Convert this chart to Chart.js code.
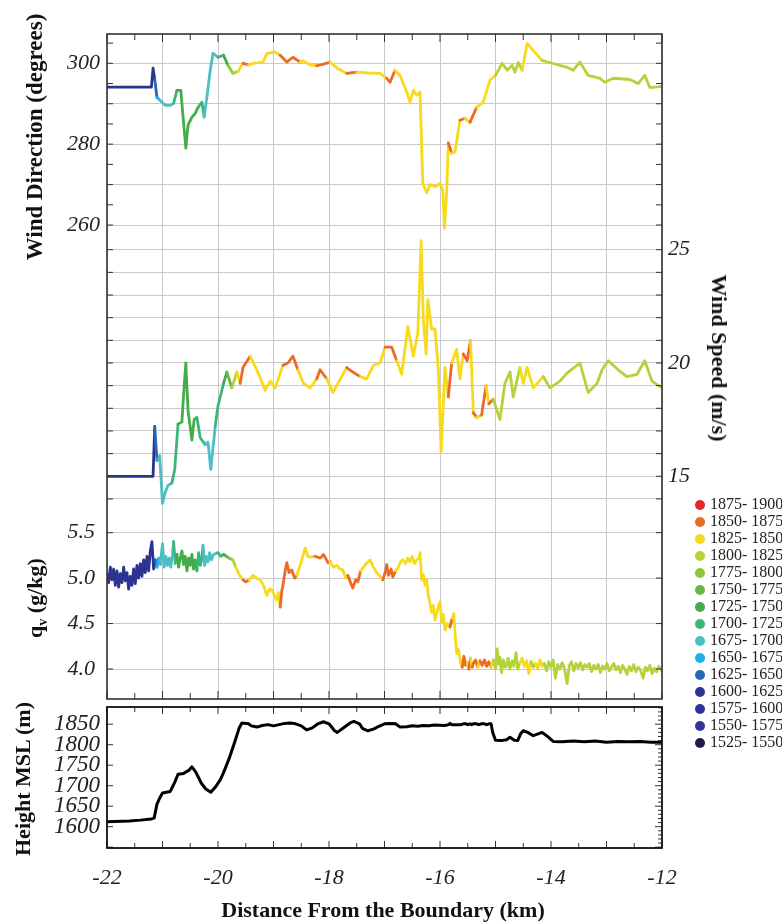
<!DOCTYPE html>
<html>
<head>
<meta charset="utf-8">
<script src="https://cdn.jsdelivr.net/npm/chart.js@4.4.0/dist/chart.umd.min.js"></script>
<style>
  body { margin: 0; background: #fff; }
  #wrap { position: relative; width: 782px; height: 922px; overflow: hidden; font-family: "Liberation Serif", "Times New Roman", serif; color: #111; }
  #box1 { position: absolute; left: 0; top: 0; }
  #box2 { position: absolute; left: 0; top: 700px; }
  .ttl { position: absolute; font-weight: bold; font-size: 22px; white-space: nowrap; line-height: 1; }
  .ttl sub { font-size: 14px; }
  .leg { position: absolute; left: 695px; height: 18px; line-height: 18px; font-size: 16px; white-space: nowrap; color: #222; }
  .leg span { display: inline-block; width: 10px; height: 10px; border-radius: 50%; margin-right: 5px; vertical-align: -1px; }
</style>
</head>
<body>
<div id="wrap">
  <div id="box1"><canvas id="c1" width="782" height="700"></canvas></div>
  <div id="box2"><canvas id="c2" width="782" height="222"></canvas></div>

  <div class="ttl" style="left:34px;top:137px;font-size:23px;transform:translate(-50%,-50%) rotate(-90deg)">Wind Direction (degrees)</div>
  <div class="ttl" style="left:37px;top:598px;transform:translate(-50%,-50%) rotate(-90deg)">q<sub>v</sub> (g/kg)</div>
  <div class="ttl" style="left:719px;top:358px;transform:translate(-50%,-50%) rotate(90deg)">Wind Speed (m/s)</div>
  <div class="ttl" style="left:23px;top:779px;transform:translate(-50%,-50%) rotate(-90deg)">Height MSL (m)</div>
  <div class="ttl" style="left:383px;top:910px;transform:translate(-50%,-50%)">Distance From the Boundary (km)</div>
  <div id="legend"></div>
</div>

<script>
// wind direction (deg) along the track
const dirKm = [-22.00, -21.60, -21.20, -21.17, -21.14, -21.10, -21.05, -20.95, -20.86, -20.80,
  -20.74, -20.67, -20.64, -20.58, -20.54, -20.47, -20.41, -20.36, -20.29, -20.25,
  -20.20, -20.14, -20.09, -20.00, -19.90, -19.82, -19.73, -19.64, -19.55, -19.45,
  -19.37, -19.19, -19.12, -18.97, -18.88, -18.76, -18.65, -18.52, -18.46, -18.34,
  -18.22, -18.10, -17.98, -17.85, -17.68, -17.50, -17.30, -17.08, -16.96, -16.90,
  -16.81, -16.72, -16.60, -16.54, -16.48, -16.42, -16.36, -16.31, -16.24, -16.18,
  -16.09, -16.00, -15.95, -15.92, -15.88, -15.85, -15.79, -15.73, -15.64, -15.55,
  -15.46, -15.34, -15.22, -15.10, -15.00, -14.88, -14.79, -14.70, -14.65, -14.59,
  -14.52, -14.43, -14.29, -14.16, -14.02, -13.71, -13.60, -13.48, -13.33, -13.12,
  -13.03, -12.88, -12.58, -12.43, -12.31, -12.22, -12.00];
const dirDeg = [294.1, 294.1, 294.1, 298.8, 296.0, 291.6, 290.9, 289.6, 289.6, 290.1,
  293.3, 293.3, 288.4, 279.0, 284.7, 286.7, 287.6, 289.1, 290.4, 286.7,
  291.6, 298.3, 302.5, 301.5, 302.0, 299.5, 297.5, 298.0, 300.0, 299.6,
  300.0, 300.3, 302.4, 302.8, 302.0, 300.3, 301.5, 300.3, 300.6, 299.6,
  299.4, 299.8, 300.3, 298.8, 297.5, 297.8, 297.6, 297.5, 296.3, 295.3,
  298.3, 297.0, 292.9, 290.4, 293.3, 292.1, 292.9, 270.3, 268.0, 270.0,
  269.5, 270.3, 268.6, 259.2, 268.0, 280.3, 277.8, 278.0, 285.9, 286.4,
  285.4, 289.1, 290.4, 295.8, 297.0, 300.0, 298.3, 299.5, 297.8, 300.2,
  298.3, 304.9, 302.7, 300.7, 300.2, 299.0, 298.3, 300.3, 297.0, 296.3,
  295.3, 296.3, 296.0, 295.0, 297.0, 294.0, 294.3];

// wind speed (m/s)
const spdKm = [-22.00, -21.60, -21.17, -21.14, -21.10, -21.05, -21.00, -20.95, -20.90, -20.83,
  -20.78, -20.72, -20.65, -20.62, -20.58, -20.54, -20.47, -20.43, -20.38, -20.32,
  -20.23, -20.18, -20.13, -20.05, -20.00, -19.90, -19.84, -19.75, -19.66, -19.60,
  -19.55, -19.42, -19.30, -19.15, -19.06, -18.97, -18.83, -18.74, -18.65, -18.56,
  -18.46, -18.34, -18.22, -18.16, -18.04, -17.93, -17.84, -17.68, -17.57, -17.44,
  -17.32, -17.20, -17.08, -16.99, -16.87, -16.78, -16.69, -16.58, -16.48, -16.45,
  -16.40, -16.34, -16.30, -16.25, -16.22, -16.15, -16.09, -16.03, -15.98, -15.91,
  -15.85, -15.79, -15.70, -15.64, -15.58, -15.51, -15.45, -15.40, -15.34, -15.25,
  -15.17, -15.12, -15.04, -14.92, -14.83, -14.74, -14.68, -14.56, -14.50, -14.43,
  -14.32, -14.14, -14.02, -13.84, -13.69, -13.48, -13.33, -13.17, -13.08, -12.97,
  -12.79, -12.63, -12.45, -12.31, -12.18, -12.00];
const spdMs = [15.0, 15.0, 15.0, 17.2, 15.7, 15.9, 13.8, 14.3, 14.6, 14.7,
  15.3, 17.3, 17.4, 18.6, 20.0, 17.9, 16.6, 17.5, 17.6, 16.7,
  16.4, 16.5, 15.3, 17.2, 18.1, 19.1, 19.6, 18.9, 19.6, 19.1,
  19.8, 20.3, 19.7, 18.8, 19.2, 18.9, 19.9, 20.0, 20.3, 19.7,
  19.1, 18.9, 19.3, 19.7, 19.3, 18.7, 19.1, 19.8, 19.6, 19.4,
  19.3, 19.9, 20.0, 20.7, 20.7, 20.1, 19.5, 21.6, 20.3, 20.7,
  21.3, 25.4, 21.9, 20.4, 22.8, 21.5, 21.5, 19.7, 16.1, 19.8,
  18.5, 20.0, 20.6, 19.3, 20.4, 20.1, 21.0, 17.8, 17.6, 17.7,
  19.0, 18.2, 18.4, 17.5, 19.1, 19.6, 18.5, 19.8, 19.1, 19.8,
  18.9, 19.4, 18.9, 19.2, 19.6, 20.0, 18.7, 19.1, 19.7, 20.1,
  19.7, 19.4, 19.5, 20.1, 19.2, 18.9];

// water vapour mixing ratio (g/kg)
const qvKm = [-22.00, -21.97, -21.94, -21.91, -21.88, -21.85, -21.82, -21.79, -21.76, -21.73,
  -21.70, -21.67, -21.64, -21.61, -21.58, -21.55, -21.52, -21.49, -21.46, -21.43,
  -21.40, -21.37, -21.34, -21.31, -21.28, -21.25, -21.22, -21.19, -21.16, -21.13,
  -21.10, -21.07, -21.04, -21.00, -20.97, -20.94, -20.91, -20.88, -20.85, -20.82,
  -20.80, -20.77, -20.74, -20.71, -20.68, -20.65, -20.62, -20.59, -20.56, -20.53,
  -20.50, -20.47, -20.44, -20.41, -20.38, -20.35, -20.32, -20.29, -20.27, -20.24,
  -20.21, -20.18, -20.15, -20.12, -20.08, -20.00, -19.95, -19.90, -19.85, -19.80,
  -19.73, -19.68, -19.62, -19.55, -19.50, -19.44, -19.37, -19.31, -19.24, -19.18,
  -19.12, -19.07, -19.03, -18.98, -18.94, -18.91, -18.88, -18.85, -18.83, -18.79,
  -18.76, -18.72, -18.67, -18.62, -18.58, -18.53, -18.49, -18.43, -18.38, -18.34,
  -18.25, -18.16, -18.10, -18.07, -18.02, -17.98, -17.92, -17.86, -17.80, -17.75,
  -17.70, -17.66, -17.61, -17.57, -17.52, -17.48, -17.43, -17.39, -17.33, -17.26,
  -17.20, -17.14, -17.08, -17.03, -16.98, -16.96, -16.93, -16.88, -16.85, -16.80,
  -16.75, -16.71, -16.67, -16.62, -16.58, -16.54, -16.50, -16.46, -16.42, -16.38,
  -16.36, -16.33, -16.30, -16.27, -16.24, -16.21, -16.18, -16.15, -16.12, -16.09,
  -16.05, -16.00, -15.97, -15.94, -15.91, -15.87, -15.82, -15.78, -15.75, -15.73,
  -15.70, -15.67, -15.63, -15.60, -15.57, -15.54, -15.51, -15.48, -15.45, -15.42,
  -15.40, -15.36, -15.32, -15.28, -15.24, -15.20, -15.16, -15.12, -15.08, -15.04,
  -15.00, -14.97, -14.94, -14.92, -14.89, -14.86, -14.82, -14.80, -14.77, -14.74,
  -14.70, -14.67, -14.63, -14.60, -14.56, -14.52, -14.48, -14.44, -14.40, -14.36,
  -14.32, -14.28, -14.24, -14.20, -14.16, -14.12, -14.08, -14.04, -14.00, -13.96,
  -13.92, -13.88, -13.84, -13.80, -13.76, -13.71, -13.67, -13.63, -13.59, -13.55,
  -13.51, -13.47, -13.43, -13.39, -13.35, -13.31, -13.27, -13.23, -13.19, -13.15,
  -13.11, -13.07, -13.03, -12.99, -12.95, -12.91, -12.87, -12.83, -12.79, -12.75,
  -12.71, -12.67, -12.63, -12.59, -12.55, -12.51, -12.47, -12.43, -12.39, -12.34,
  -12.30, -12.26, -12.22, -12.18, -12.14, -12.10, -12.06, -12.00];
const qvVal = [5.05, 4.95, 5.12, 4.98, 5.10, 4.92, 5.08, 4.90, 5.05, 4.95,
  5.12, 4.97, 5.06, 4.88, 5.02, 4.92, 5.10, 4.94, 5.14, 5.00,
  5.16, 5.02, 5.20, 5.06, 5.24, 5.08, 5.30, 5.40, 5.10, 5.20,
  5.12, 5.22, 5.15, 5.38, 5.12, 5.24, 5.14, 5.22, 5.12, 5.26,
  5.40, 5.16, 5.26, 5.12, 5.22, 5.30, 5.15, 5.24, 5.08, 5.22,
  5.14, 5.26, 5.10, 5.20, 5.08, 5.28, 5.14, 5.22, 5.36, 5.14,
  5.24, 5.18, 5.28, 5.20, 5.26, 5.28, 5.24, 5.26, 5.24, 5.22,
  5.20, 5.12, 5.04, 4.98, 4.96, 4.98, 5.03, 5.00, 4.98, 4.92,
  4.81, 4.88, 4.87, 4.80, 4.76, 4.84, 4.68, 4.86, 4.92, 5.08,
  5.17, 5.06, 5.09, 5.00, 5.03, 5.12, 5.20, 5.33, 5.24, 5.23,
  5.24, 5.22, 5.26, 5.23, 5.17, 5.18, 5.12, 5.14, 5.10, 5.09,
  5.00, 5.03, 4.95, 4.89, 4.98, 4.96, 5.08, 5.11, 5.16, 5.20,
  5.12, 5.06, 5.02, 4.98, 5.08, 5.15, 5.03, 5.10, 5.01, 5.08,
  5.12, 5.18, 5.20, 5.16, 5.22, 5.18, 5.24, 5.16, 5.20, 5.22,
  5.28, 4.98, 5.04, 4.92, 4.98, 4.80, 4.72, 4.62, 4.70, 4.54,
  4.64, 4.74, 4.52, 4.60, 4.43, 4.50, 4.46, 4.56, 4.61, 4.40,
  4.17, 4.22, 4.08, 4.02, 4.14, 4.04, 4.07, 4.00, 4.12, 4.02,
  4.06, 4.10, 4.02, 4.09, 4.04, 4.10, 4.03, 4.08, 4.02, 4.10,
  4.00, 4.22, 4.05, 4.13, 3.96, 4.10, 4.02, 4.04, 4.12, 4.00,
  4.09, 4.03, 4.18, 4.00, 4.07, 4.12, 4.03, 4.09, 3.95, 4.08,
  4.02, 4.06, 4.00, 4.10, 4.03, 4.06, 3.98, 4.08, 4.02, 4.10,
  3.90, 4.05, 4.00, 4.07, 4.01, 3.84, 4.04, 4.08, 3.98, 4.06,
  4.01, 4.07, 3.99, 4.05, 4.02, 4.06, 3.97, 4.04, 4.00, 4.05,
  3.96, 4.03, 4.00, 4.06, 3.98, 4.02, 4.06, 3.99, 4.03, 3.96,
  4.04, 4.00, 3.94, 4.03, 3.98, 4.05, 3.97, 4.02, 3.99, 3.90,
  4.02, 3.98, 4.04, 3.95, 4.01, 3.97, 4.03, 3.98];

// flight height MSL (m)
const hKm = [-22.00, -21.60, -21.40, -21.20, -21.15, -21.10, -21.05, -21.00, -20.86, -20.78,
  -20.72, -20.62, -20.52, -20.47, -20.40, -20.30, -20.22, -20.13, -20.05, -19.96,
  -19.90, -19.80, -19.70, -19.62, -19.57, -19.45, -19.40, -19.30, -19.20, -19.10,
  -19.00, -18.90, -18.80, -18.70, -18.60, -18.50, -18.40, -18.30, -18.20, -18.10,
  -18.00, -17.90, -17.85, -17.75, -17.62, -17.55, -17.45, -17.40, -17.30, -17.20,
  -17.10, -17.00, -16.90, -16.80, -16.72, -16.60, -16.50, -16.40, -16.30, -16.20,
  -16.10, -15.92, -15.84, -15.82, -15.79, -15.62, -15.58, -15.53, -15.50, -15.46,
  -15.43, -15.40, -15.35, -15.30, -15.25, -15.20, -15.16, -15.12, -15.08, -15.05,
  -15.00, -14.90, -14.80, -14.74, -14.66, -14.60, -14.55, -14.50, -14.42, -14.32,
  -14.22, -14.16, -14.08, -13.96, -13.80, -13.60, -13.40, -13.20, -13.00, -12.80,
  -12.60, -12.40, -12.20, -12.00];
const hM = [1612, 1614, 1616, 1619, 1621, 1655, 1670, 1682, 1686, 1708,
  1728, 1730, 1738, 1746, 1733, 1706, 1692, 1684, 1696, 1714,
  1732, 1766, 1806, 1840, 1853, 1851, 1846, 1843, 1847, 1849,
  1846, 1849, 1852, 1853, 1851, 1846, 1836, 1841, 1851, 1856,
  1851, 1834, 1830, 1840, 1853, 1857, 1851, 1840, 1834, 1838,
  1845, 1851, 1852, 1851, 1843, 1844, 1846, 1845, 1847, 1846,
  1848, 1847, 1849, 1852, 1849, 1849, 1851, 1851, 1849, 1851,
  1849, 1851, 1851, 1849, 1851, 1851, 1849, 1851, 1851, 1830,
  1811, 1810, 1812, 1818, 1811, 1810, 1826, 1834, 1830, 1822,
  1827, 1830, 1822, 1808, 1807, 1809, 1807, 1809, 1806, 1808,
  1807, 1808, 1806, 1806];

// height classes (legend, top to bottom)
const binLabels = ['1875- 1900', '1850- 1875', '1825- 1850', '1800- 1825', '1775- 1800',
  '1750- 1775', '1725- 1750', '1700- 1725', '1675- 1700', '1650- 1675',
  '1625- 1650', '1600- 1625', '1575- 1600', '1550- 1575', '1525- 1550'];
const binColors = ['#e5262a', '#ec6a26', '#f7da1c', '#b4d23a', '#8cc63f',
  '#66b946', '#45ac4a', '#3db57a', '#4bbfc3', '#1db0e8',
  '#2667b6', '#2b3590', '#31319c', '#35329a', '#23194f'];

const dirTicks = [260, 270, 280, 290, 300];
const dirLabels = [260, 280, 300];
const spdTicks = [14, 15, 16, 17, 18, 19, 20, 21, 22, 23, 24, 25];
const spdLabels = [15, 20, 25];
const qvTicks = [4.0, 4.5, 5.0, 5.5];
const hTicks = [1600, 1650, 1700, 1750, 1800, 1850];
const kmTicks = [-22, -20, -18, -16, -14, -12];

const GRID = '#c9c9c9';
const tickFont = { family: 'Liberation Serif', style: 'italic', size: 22, lineHeight: 1 };

function heightAt(km) {
  for (let i = 1; i < hKm.length; i++) {
    if (km <= hKm[i]) {
      const t = (km - hKm[i - 1]) / (hKm[i] - hKm[i - 1]);
      return hM[i - 1] + t * (hM[i] - hM[i - 1]);
    }
  }
  return hM[hM.length - 1];
}

function colorForHeight(h) {
  let idx = Math.floor((h - 1525) / 25);
  idx = Math.max(0, Math.min(14, idx));
  return binColors[14 - idx];
}

function segColor(ctx) {
  const xm = (ctx.p0.parsed.x + ctx.p1.parsed.x) / 2;
  return colorForHeight(heightAt(xm));
}

function pts(xs, ys) {
  return xs.map((x, i) => ({ x: x, y: ys[i] }));
}

function colored(xs, ys, axis) {
  return {
    data: pts(xs, ys),
    yAxisID: axis,
    borderColor: '#f7da1c',
    borderWidth: 2.8,
    borderJoinStyle: 'round',
    borderCapStyle: 'round',
    pointRadius: 0,
    tension: 0,
    segment: { borderColor: segColor }
  };
}

function noPad(s) {
  s.paddingTop = 0; s.paddingBottom = 0; s.paddingLeft = 0; s.paddingRight = 0;
}

function stroke(c, x1, y1, x2, y2) {
  c.beginPath(); c.moveTo(x1, y1); c.lineTo(x2, y2); c.stroke();
}

// tick positions every half km for the small inward marks
function halfKm() {
  const v = [];
  for (let k = -22; k <= -12.001; k += 0.5) v.push(Math.round(k * 2) / 2);
  v.push(-12);
  return v;
}

// qv labels share the left margin with the direction labels
const shareLeft = {
  id: 'shareLeft',
  afterLayout(chart) {
    chart.scales.yQ.left = 0;
  }
};

const frameMain = {
  id: 'frameMain',
  afterDraw(chart) {
    const c = chart.ctx, a = chart.chartArea;
    c.save();
    c.strokeStyle = '#333';
    c.lineWidth = 1;
    const sx = chart.scales.x;
    halfKm().forEach(v => {
      const p = sx.getPixelForValue(v);
      const len = Number.isInteger(v) ? 8 : 6;
      stroke(c, p, a.top, p, a.top + len);
      stroke(c, p, a.bottom, p, a.bottom - len);
    });
    const sd = chart.scales.yDir;
    for (let d = 260; d <= 305; d += 5) {
      const p = sd.getPixelForValue(d);
      stroke(c, a.left, p, a.left + 6, p);
      stroke(c, a.right, p, a.right - 6, p);
    }
    const ss = chart.scales.ySpd;
    spdTicks.forEach(v => {
      const p = ss.getPixelForValue(v);
      stroke(c, a.left, p, a.left + 6, p);
      stroke(c, a.right, p, a.right - 6, p);
    });
    const sq = chart.scales.yQ;
    qvTicks.forEach(v => {
      const p = sq.getPixelForValue(v);
      stroke(c, a.left, p, a.left + 6, p);
      stroke(c, a.right, p, a.right - 6, p);
    });
    c.lineWidth = 1.6;
    c.strokeRect(a.left, a.top, a.right - a.left, a.bottom - a.top);
    c.restore();
  }
};

const frameHeight = {
  id: 'frameHeight',
  afterDraw(chart) {
    const c = chart.ctx, a = chart.chartArea;
    c.save();
    c.strokeStyle = '#333';
    c.lineWidth = 1;
    const sx = chart.scales.x;
    halfKm().forEach(v => {
      const p = sx.getPixelForValue(v);
      const len = Number.isInteger(v) ? 7 : 5;
      stroke(c, p, a.top, p, a.top + len);
      stroke(c, p, a.bottom, p, a.bottom - len);
    });
    const sh = chart.scales.yH;
    for (let h = 1550; h <= 1890; h += 10) {
      const p = sh.getPixelForValue(h);
      stroke(c, a.right, p, a.right - (h % 50 === 0 ? 7 : 4), p);
      if (h % 50 === 0) stroke(c, a.left, p, a.left + 6, p);
    }
    c.strokeStyle = '#111';
    c.lineWidth = 1.8;
    c.strokeRect(a.left, a.top, a.right - a.left, a.bottom - a.top);
    c.restore();
  }
};

// top panel: direction, speed and qv share one frame
new Chart(document.getElementById('c1'), {
  type: 'line',
  data: {
    datasets: [
      colored(dirKm, dirDeg, 'yDir'),
      colored(spdKm, spdMs, 'ySpd'),
      colored(qvKm, qvVal, 'yQ')
    ]
  },
  options: {
    responsive: false,
    animation: false,
    devicePixelRatio: 1,
    layout: { padding: { top: 34, bottom: 1, left: 0, right: 0 } },
    plugins: { legend: { display: false }, tooltip: { enabled: false } },
    scales: {
      x: {
        type: 'linear', min: -22, max: -12, position: 'bottom',
        ticks: { display: false, stepSize: 1 },
        grid: { color: GRID, drawTicks: false },
        border: { display: false },
        afterFit: s => { s.height = 0; noPad(s); }
      },
      yDir: {
        position: 'left', weight: 1, min: 142.76, max: 307.25,
        afterBuildTicks: s => { s.ticks = dirTicks.map(v => ({ value: v })); },
        ticks: { autoSkip: false, font: tickFont, color: '#222', padding: 7,
          callback: v => dirLabels.includes(v) ? String(v) : '' },
        grid: { color: GRID, drawTicks: false },
        border: { display: false },
        afterFit: s => { s.width = 107; noPad(s); }
      },
      yQ: {
        position: 'left', weight: 0, min: 3.670, max: 10.986,
        afterBuildTicks: s => { s.ticks = qvTicks.map(v => ({ value: v })); },
        ticks: { autoSkip: false, font: tickFont, color: '#222', padding: 12,
          callback: v => v.toFixed(1) },
        grid: { color: GRID, drawTicks: false },
        border: { display: false },
        afterFit: s => { s.width = 0; noPad(s); }
      },
      ySpd: {
        position: 'right', min: 5.17, max: 34.52,
        afterBuildTicks: s => { s.ticks = spdTicks.map(v => ({ value: v })); },
        ticks: { autoSkip: false, font: tickFont, color: '#222', padding: 6,
          callback: v => spdLabels.includes(v) ? String(v) : '' },
        grid: { color: GRID, drawTicks: false },
        border: { display: false },
        afterFit: s => { s.width = 120; noPad(s); }
      }
    }
  },
  plugins: [shareLeft, frameMain]
});

// bottom panel: aircraft height
new Chart(document.getElementById('c2'), {
  type: 'line',
  data: {
    datasets: [{
      data: pts(hKm, hM),
      yAxisID: 'yH',
      borderColor: '#000',
      borderWidth: 3,
      borderJoinStyle: 'round',
      pointRadius: 0,
      tension: 0
    }]
  },
  options: {
    responsive: false,
    animation: false,
    devicePixelRatio: 1,
    layout: { padding: { top: 7, bottom: 0, left: 0, right: 120 } },
    plugins: { legend: { display: false }, tooltip: { enabled: false } },
    scales: {
      x: {
        type: 'linear', min: -22, max: -12, position: 'bottom',
        afterBuildTicks: s => { s.ticks = kmTicks.map(v => ({ value: v })); },
        ticks: { autoSkip: false, maxRotation: 0, font: tickFont, color: '#222', padding: 19,
          callback: v => String(v) },
        grid: { display: false, drawTicks: false },
        border: { display: false },
        afterFit: s => { s.height = 74; noPad(s); }
      },
      yH: {
        position: 'left', min: 1548, max: 1892,
        afterBuildTicks: s => { s.ticks = hTicks.map(v => ({ value: v })); },
        ticks: { autoSkip: false, font: { family: 'Liberation Serif', style: 'italic', size: 23, lineHeight: 1 },
          color: '#222', padding: 7, callback: v => String(v) },
        grid: { display: false, drawTicks: false },
        border: { display: false },
        afterFit: s => { s.width = 107; noPad(s); }
      }
    }
  },
  plugins: [frameHeight]
});

// legend
const legend = document.getElementById('legend');
binLabels.forEach((lab, i) => {
  const row = document.createElement('div');
  row.className = 'leg';
  row.style.top = (495 + i * 17) + 'px';
  const dot = document.createElement('span');
  dot.style.background = binColors[i];
  row.appendChild(dot);
  row.appendChild(document.createTextNode(lab));
  legend.appendChild(row);
});
</script>
</body>
</html>
